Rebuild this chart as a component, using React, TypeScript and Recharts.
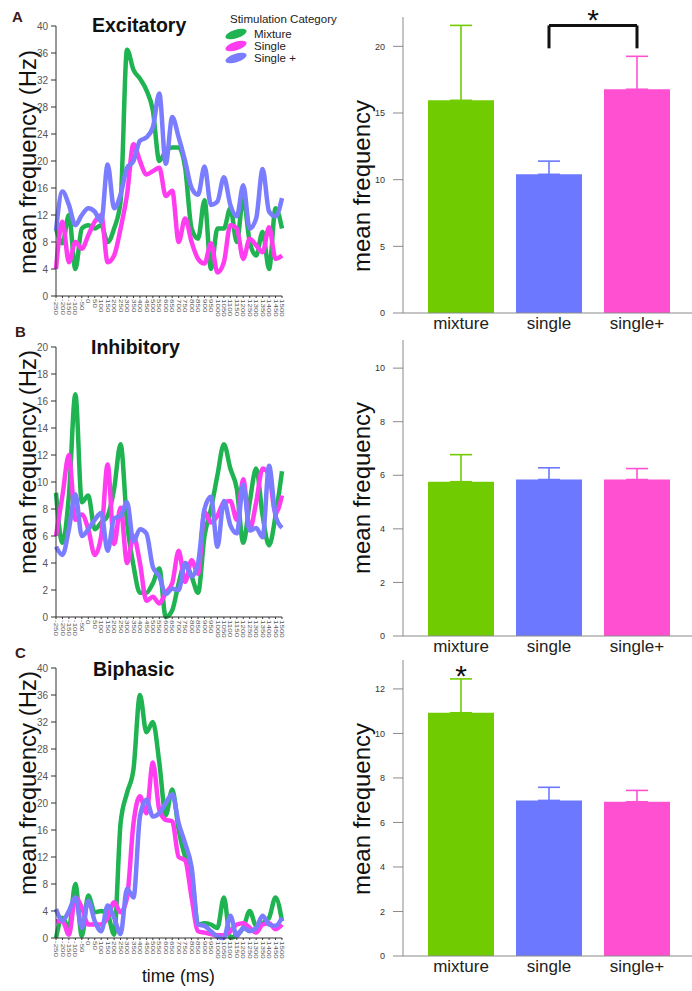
import React from "react";
import {
  LineChart,
  Line,
  XAxis,
  YAxis,
  Legend,
  BarChart,
  Bar,
  ErrorBar,
  ReferenceLine,
  ReferenceDot,
} from "recharts";

const FONT = '"Liberation Sans", Arial, Helvetica, sans-serif';

// time bins (ms) shared by the three trace panels
const timeLabels = [
  -250, -200, -150, -100, -50, 0, 50, 100, 150, 200, 250, 300, 350, 400, 450, 500, 550, 600,
  650, 700, 750, 800, 850, 900, 950, 1000, 1050, 1100, 1150, 1200, 1250, 1300, 1350, 1400, 1450, 1500,
];

// A – excitatory
const excMixture = [10, 7.8, 12, 4, 10, 10.5, 10, 10.5, 8, 10, 14, 36.5, 33.5, 32.2, 30.5, 27.5, 20, 21.5, 22, 22, 19, 10, 8.5, 14.2, 4, 10, 10, 13, 8, 14.5, 8, 6, 9.5, 4, 13, 10];
const excSingle = [4, 11, 5, 8, 7, 9, 11, 12, 5, 6, 10, 15, 22.5, 20, 18, 18.5, 19, 14.8, 15.6, 8, 11.5, 8, 5.5, 4.8, 7.8, 3.5, 5, 10.5, 10, 5.5, 8.5, 7.5, 6.5, 10.2, 5.5, 6];
const excSinglePlus = [9.7, 15.5, 13.5, 10.5, 12, 13, 12.5, 11, 19.5, 13, 15, 19, 20, 23, 23.5, 25, 30, 19.6, 26.5, 23.5, 20, 16, 15, 19.2, 13.5, 14, 17.6, 13.5, 11.8, 16.4, 10, 11.5, 18.8, 12.5, 11.8, 14.5];

// B – inhibitory
const inhMixture = [9.2, 5.5, 9, 16.5, 8.5, 9, 6.5, 7, 7.5, 9.5, 12.8, 7, 3.8, 1.8, 1.8, 2.5, 3.6, 0, 0.5, 2.5, 4, 3, 1.8, 6, 8, 10.5, 12.8, 11, 9.5, 5.5, 8.5, 11, 7.5, 5.3, 7.5, 10.8];
const inhSingle = [6, 9, 12, 7.2, 7.6, 6.5, 4.6, 6, 11.3, 5.4, 8.1, 4, 6, 4, 1.2, 1.5, 1, 1.8, 2.5, 4.9, 2.6, 4.2, 3.2, 7.8, 7, 7.5, 8.5, 8.6, 7.2, 10.2, 6.5, 8.5, 11, 10.5, 7.7, 9];
const inhSinglePlus = [5.2, 4.6, 6.5, 9.1, 6, 6.5, 7.2, 7.7, 4.9, 7.3, 7.5, 8.5, 5.6, 6.5, 6.2, 3.7, 3, 1.7, 2.1, 2, 4, 3, 4, 8, 8.9, 5.2, 8.6, 6.8, 6.2, 9.8, 6.4, 6.6, 5.9, 11.2, 7.5, 6.6];

// C – biphasic
const biMixture = [0, 3, 1.5, 8, 0.3, 6.3, 3.8, 4, 3.5, 0.5, 17, 21.5, 25, 36, 30.5, 32, 26, 18.2, 22, 16, 12, 9.5, 2, 2.2, 2, 1.5, 6, 0, 0.5, 1.5, 4, 1.8, 2.2, 3, 6, 2.5];
const biSingle = [2.5, 2.5, 0.5, 6, 4.5, 2, 2, 2, 3, 5.3, 3.8, 6, 17, 21, 18.5, 26, 19, 17.5, 17.3, 12, 11.5, 6, 1, 0.8, 0.6, 0.4, 0.4, 1, 2, 2.2, 1.5, 0.8, 2, 2.2, 1.3, 2];
const biSinglePlus = [4.3, 2.6, 4, 6, 1.5, 5.5, 2.5, 1, 4.8, 3, 0.6, 7.3, 6, 18, 20.5, 18, 18.5, 20, 21.3, 17, 14, 10.5, 2, 1.8, 1, 0.2, 0, 3.3, 0.3, 1.5, 1, 1.5, 3.3, 2, 1.8, 3];

const ticks40 = [0, 4, 8, 12, 16, 20, 24, 28, 32, 36, 40];
const ticks20 = [0, 2, 4, 6, 8, 10, 12, 14, 16, 18, 20];

// bar panels
const barCategories = ["mixture", "single", "single+"];
const barColors = ["#70cc00", "#6b78ff", "#ff50d2"];
const excMeans = [15.95, 10.4, 16.78];
const excUpper = [21.57, 11.39, 19.25];
const inhMeans = [5.76, 5.84, 5.84];
const inhUpper = [6.77, 6.28, 6.25];
const biMeans = [10.93, 6.99, 6.93];
const biUpper = [12.45, 7.58, 7.44];

const lineColors = { mixture: "#1fb451", single: "#ff3cf0", singlePlus: "#7a7dff" };

function traceRows(m: number[], s: number[], p: number[]) {
  return timeLabels.map((t, i) => ({ t: String(t), mixture: m[i], single: s[i], singlePlus: p[i] }));
}

function barRows(means: number[], upper: number[]) {
  return barCategories.map((cat, i) => {
    const row: any = { cat };
    row["v" + i] = means[i];
    row["e" + i] = [0, Math.round((upper[i] - means[i]) * 100) / 100];
    return row;
  });
}

function TimeTick(props: any) {
  const { x, y, payload } = props;
  return (
    <text
      transform={`translate(${x},${y}) rotate(90) scale(1.6,1)`}
      fontSize={5}
      fill="#555"
      fontFamily={FONT}
      dominantBaseline="central"
    >
      {payload.value}
    </text>
  );
}

function AxisTitle({ cx, cy, text, size }: any) {
  return (
    <text
      x={cx}
      y={cy}
      transform={`rotate(-90 ${cx} ${cy})`}
      textAnchor="middle"
      dominantBaseline="central"
      fontSize={size}
      fontFamily={FONT}
      fill="#111"
    >
      {text}
    </text>
  );
}

function Asterisk({ viewBox, lift, size }: any) {
  if (!viewBox) return null;
  const x = viewBox.x + (viewBox.width || 0) / 2;
  return (
    <text x={x} y={viewBox.y + lift} textAnchor="middle" fontSize={size} fontFamily={FONT} fill="#111">
      *
    </text>
  );
}

function CategoryLegend({ payload }: any) {
  return (
    <div style={{ fontFamily: FONT, color: "#222", fontSize: 11.5 }}>
      <div style={{ lineHeight: "12px", height: 12, marginLeft: 6, whiteSpace: "nowrap" }}>Stimulation Category</div>
      <div style={{ marginTop: 3 }}>
        {(payload || []).map((p: any) => (
          <div key={p.value} style={{ display: "flex", alignItems: "center", height: 12 }}>
            <svg width={26} height={12} style={{ display: "block" }}>
              <ellipse cx={12} cy={6} rx={11} ry={4.3} fill={p.color} transform="rotate(-18 12 6)" />
            </svg>
            <span style={{ marginLeft: 4, lineHeight: "11px", whiteSpace: "nowrap" }}>{p.value}</span>
          </div>
        ))}
      </div>
    </div>
  );
}

function TracePanel({ top, rows, yMax, yTicks, labelY, legend }: any) {
  return (
    <div style={{ position: "absolute", left: 0, top, width: 290, height: 320 }}>
      <LineChart width={290} height={320} data={rows} margin={{ top: 26, right: 8, left: 0, bottom: 0 }}>
        <XAxis
          dataKey="t"
          interval={0}
          tick={<TimeTick />}
          height={24}
          tickSize={2}
          tickMargin={1}
          stroke="#333"
        />
        <YAxis
          domain={[0, yMax]}
          ticks={yTicks}
          width={56}
          tickSize={5}
          tickMargin={3}
          stroke="#333"
          tick={{ fontSize: 10, fill: "#555", fontFamily: FONT }}
          label={<AxisTitle cx={27} cy={labelY} text="mean frequency (Hz)" size={24} />}
        />
        {legend && (
          <Legend
            layout="vertical"
            align="center"
            verticalAlign="middle"
            content={(p: any) => <CategoryLegend {...p} />}
            wrapperStyle={{ left: 224, top: 13, width: 130 }}
          />
        )}
        <Line name="Mixture" type="monotone" dataKey="mixture" stroke={lineColors.mixture} strokeWidth={4.5} dot={false} isAnimationActive={false} />
        <Line name="Single" type="monotone" dataKey="single" stroke={lineColors.single} strokeWidth={4.5} dot={false} isAnimationActive={false} />
        <Line name="Single +" type="monotone" dataKey="singlePlus" stroke={lineColors.singlePlus} strokeWidth={4.5} dot={false} isAnimationActive={false} />
      </LineChart>
    </div>
  );
}

function MeanPanel({ top, rows, yMax, yTicks, labelY, children }: any) {
  const height = 17 + 296 + 30;
  return (
    <div style={{ position: "absolute", left: 340, top, width: 352, height }}>
      <BarChart width={352} height={height} data={rows} margin={{ top: 17, right: 0, left: 0, bottom: 0 }}>
        {barCategories.map((c, i) => (
          <XAxis
            key={"x" + c}
            xAxisId={i}
            dataKey="cat"
            hide={i > 0}
            interval={0}
            padding={{ left: 14, right: 11 }}
            tickLine={false}
            tickSize={0}
            tickMargin={4}
            height={30}
            stroke="#8a8a8a"
            tick={{ fontSize: 17, fill: "#222", fontFamily: FONT }}
          />
        ))}
        <YAxis
          domain={[0, yMax]}
          ticks={yTicks}
          width={63}
          tickSize={10}
          tickMargin={8}
          stroke="#8a8a8a"
          tick={{ fontSize: 9, fill: "#333", fontFamily: FONT }}
          label={<AxisTitle cx={21} cy={labelY} text="mean frequency" size={24} />}
        />
        {barCategories.map((c, i) => (
          <Bar key={c} xAxisId={i} dataKey={"v" + i} fill={barColors[i]} barSize={66} isAnimationActive={false}>
            <ErrorBar dataKey={"e" + i} width={11} stroke={barColors[i]} strokeWidth={1.6} direction="y" />
          </Bar>
        ))}
        {children}
      </BarChart>
    </div>
  );
}

const letterStyle: React.CSSProperties = {
  position: "absolute",
  fontFamily: FONT,
  fontWeight: "bold",
  fontSize: 15,
  lineHeight: "15px",
  color: "#3d1a1a",
};
const titleStyle: React.CSSProperties = {
  position: "absolute",
  fontFamily: FONT,
  fontWeight: "bold",
  fontSize: 19.5,
  lineHeight: "19.5px",
  color: "#111",
  whiteSpace: "nowrap",
};

export default function App() {
  const bracket = { stroke: "#111", strokeWidth: 3 };
  return (
    <div style={{ position: "absolute", left: 0, top: 0, width: 692, height: 991, background: "#fff", overflow: "hidden" }}>
      <TracePanel top={0} rows={traceRows(excMixture, excSingle, excSinglePlus)} yMax={40} yTicks={ticks40} labelY={162} legend />
      <TracePanel top={321} rows={traceRows(inhMixture, inhSingle, inhSinglePlus)} yMax={20} yTicks={ticks20} labelY={141} />
      <TracePanel top={642} rows={traceRows(biMixture, biSingle, biSinglePlus)} yMax={40} yTicks={ticks40} labelY={141} />

      <MeanPanel top={0} rows={barRows(excMeans, excUpper)} yMax={22.2} yTicks={[0, 5, 10, 15, 20]} labelY={186}>
        <ReferenceLine xAxisId={0} segment={[{ x: "single", y: 19.85 }, { x: "single", y: 21.57 }]} {...bracket} />
        <ReferenceLine
          xAxisId={0}
          segment={[{ x: "single", y: 21.57 }, { x: "single+", y: 21.57 }]}
          {...bracket}
          label={<Asterisk lift={4.5} size={30} />}
        />
        <ReferenceLine xAxisId={0} segment={[{ x: "single+", y: 21.57 }, { x: "single+", y: 19.85 }]} {...bracket} />
      </MeanPanel>
      <MeanPanel top={323} rows={barRows(inhMeans, inhUpper)} yMax={11.05} yTicks={[0, 2, 4, 6, 8, 10]} labelY={165} />
      <MeanPanel top={643} rows={barRows(biMeans, biUpper)} yMax={13.3} yTicks={[0, 2, 4, 6, 8, 10, 12]} labelY={166}>
        <ReferenceDot xAxisId={0} x="mixture" y={12.45} r={0} label={<Asterisk lift={7} size={30} />} />
      </MeanPanel>

      <div style={{ ...letterStyle, left: 12, top: 9 }}>A</div>
      <div style={{ ...letterStyle, left: 15, top: 324 }}>B</div>
      <div style={{ ...letterStyle, left: 15, top: 645 }}>C</div>

      <div style={{ ...titleStyle, left: 92, top: 15.5 }}>Excitatory</div>
      <div style={{ ...titleStyle, left: 91, top: 337.5 }}>Inhibitory</div>
      <div style={{ ...titleStyle, left: 93, top: 659.5 }}>Biphasic</div>

      <div style={{ position: "absolute", left: 142, top: 968, fontFamily: FONT, fontSize: 17.5, lineHeight: "17.5px", color: "#111", whiteSpace: "nowrap" }}>
        time (ms)
      </div>
    </div>
  );
}
